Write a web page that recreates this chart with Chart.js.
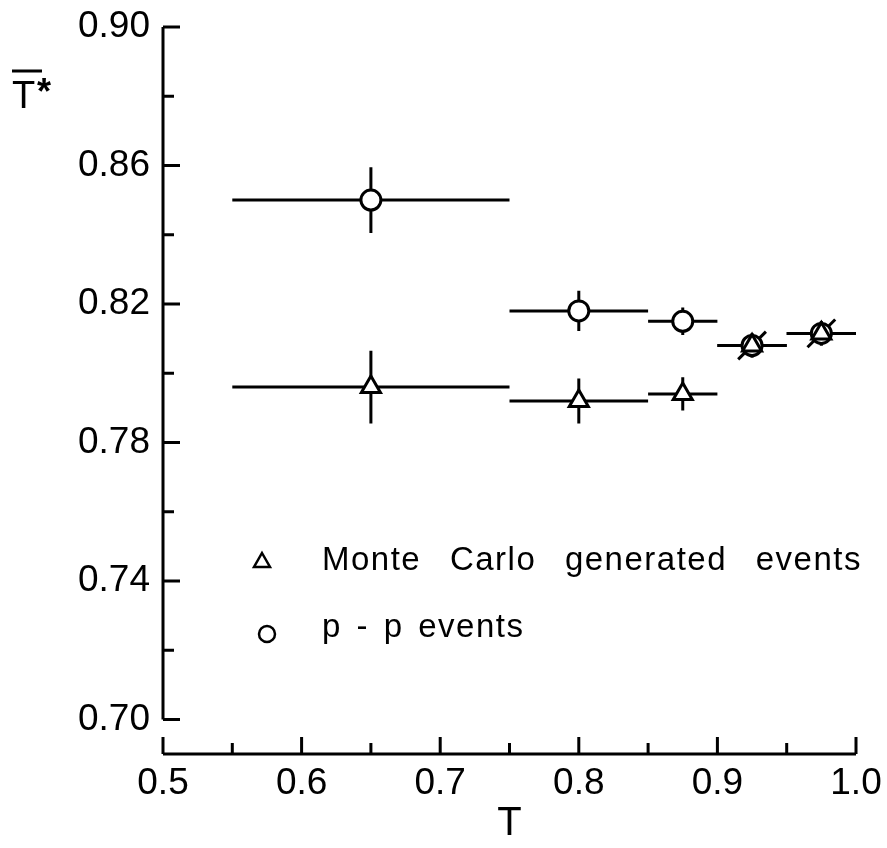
<!DOCTYPE html>
<html>
<head>
<meta charset="utf-8">
<script src="https://cdn.jsdelivr.net/npm/chart.js@4"></script>
<style>
  html, body { margin: 0; padding: 0; background: #fff; }
  #wrap { width: 887px; height: 848px; }
</style>
</head>
<body>
<div id="wrap"><canvas id="canvas" width="887" height="848"></canvas></div>
<script>
// bins in T (horizontal bars) and bin centres
const binLow = [0.55, 0.75, 0.85, 0.90, 0.95];
const binHigh = [0.75, 0.85, 0.90, 0.95, 1.00];
const binCentre = [0.65, 0.80, 0.875, 0.925, 0.975];

// mean T* values
const monteCarlo = [0.796, 0.792, 0.794, 0.808, 0.8115];
const monteCarloErr = [0.0105, 0.0065, 0.0048, 0.0035, 0.0035];
const ppEvents = [0.850, 0.818, 0.815, 0.808, 0.8115];
const ppErr = [0.0095, 0.0058, 0.0040, 0.0035, 0.0035];

// tick labels
const xTicks = [0.5, 0.6, 0.7, 0.8, 0.9, 1.0];
const xMinor = [0.55, 0.65, 0.75, 0.85, 0.95];
const yTicks = [0.70, 0.74, 0.78, 0.82, 0.86, 0.90];
const yMinor = [0.72, 0.76, 0.80, 0.84, 0.88];

const FONT = "'Liberation Sans', Arial, sans-serif";

// error bars, axis lines, inward ticks, legend, y title
const figurePlugin = {
    id: 'figure',
    beforeDatasetsDraw(chart) {
        const ctx = chart.ctx;
        const xs = chart.scales.x, ys = chart.scales.y;
        ctx.save();
        ctx.strokeStyle = '#000';
        ctx.lineWidth = 3;
        ctx.lineCap = 'butt';

        const bars = (vals, errs) => {
            vals.forEach((v, i) => {
                const y = ys.getPixelForValue(v);
                const x = xs.getPixelForValue(binCentre[i]);
                ctx.beginPath();
                ctx.moveTo(xs.getPixelForValue(binLow[i]), y);
                ctx.lineTo(xs.getPixelForValue(binHigh[i]), y);
                ctx.moveTo(x, ys.getPixelForValue(v - errs[i]));
                ctx.lineTo(x, ys.getPixelForValue(v + errs[i]));
                ctx.stroke();
            });
        };
        bars(monteCarlo, monteCarloErr);
        bars(ppEvents, ppErr);

        // slanted strokes where the two samples coincide
        [3, 4].forEach(i => {
            ctx.beginPath();
            ctx.moveTo(xs.getPixelForValue(binCentre[i] - 0.010), ys.getPixelForValue(ppEvents[i] - 0.004));
            ctx.lineTo(xs.getPixelForValue(binCentre[i] + 0.010), ys.getPixelForValue(ppEvents[i] + 0.004));
            ctx.stroke();
        });
        ctx.restore();
    },
    afterDraw(chart) {
        const ctx = chart.ctx;
        const xs = chart.scales.x, ys = chart.scales.y;
        const left = chart.chartArea.left, bottom = chart.chartArea.bottom;
        ctx.save();
        ctx.strokeStyle = '#000';
        ctx.fillStyle = '#000';
        ctx.lineWidth = 3;

        // y axis (stops at 0.70)
        ctx.beginPath();
        ctx.moveTo(left, ys.getPixelForValue(0.70));
        ctx.lineTo(left, ys.getPixelForValue(0.90));
        yTicks.forEach(v => {
            const y = ys.getPixelForValue(v);
            ctx.moveTo(left, y); ctx.lineTo(left + 17, y);
        });
        yMinor.forEach(v => {
            const y = ys.getPixelForValue(v);
            ctx.moveTo(left, y); ctx.lineTo(left + 11, y);
        });
        // x axis
        ctx.moveTo(xs.getPixelForValue(0.5), bottom);
        ctx.lineTo(xs.getPixelForValue(1.0), bottom);
        xTicks.forEach(v => {
            const x = xs.getPixelForValue(v);
            ctx.moveTo(x, bottom); ctx.lineTo(x, bottom - 17);
        });
        xMinor.forEach(v => {
            const x = xs.getPixelForValue(v);
            ctx.moveTo(x, bottom); ctx.lineTo(x, bottom - 11);
        });
        ctx.stroke();

        // y title: T with a bar and a star
        ctx.font = '38px ' + FONT;
        ctx.textBaseline = 'alphabetic';
        ctx.textAlign = 'left';
        ctx.fillText('T', 12, 108);
        ctx.font = 'bold 36px ' + FONT;
        ctx.fillText('*', 37, 104);
        ctx.beginPath();
        ctx.moveTo(12, 71); ctx.lineTo(42, 71);
        ctx.stroke();

        // legend
        ctx.lineWidth = 2.5;
        ctx.beginPath();
        ctx.moveTo(262, 553); ctx.lineTo(270, 567); ctx.lineTo(254, 567); ctx.closePath();
        ctx.stroke();
        ctx.beginPath();
        ctx.arc(267, 634, 8, 0, Math.PI * 2);
        ctx.stroke();

        ctx.font = '33px ' + FONT;
        ctx.letterSpacing = '1.5px';
        ctx.wordSpacing = '18px';
        ctx.fillText('Monte Carlo generated events', 322, 570);
        ctx.wordSpacing = '4px';
        ctx.fillText('p - p events', 322, 637);
        ctx.restore();
    }
};

new Chart(document.querySelector('#canvas'), {
    type: 'scatter',
    data: {
        datasets: [
            {
                label: 'Monte Carlo generated events',
                data: binCentre.map((x, i) => ({ x: x, y: monteCarlo[i] })),
                pointStyle: 'triangle',
                pointRadius: 11,
                pointBorderWidth: 3,
                borderColor: '#000',
                backgroundColor: '#fff'
            },
            {
                label: 'p-p events',
                data: binCentre.map((x, i) => ({ x: x, y: ppEvents[i] })),
                pointStyle: 'circle',
                pointRadius: 10,
                pointBorderWidth: 3,
                borderColor: '#000',
                backgroundColor: '#fff'
            }
        ]
    },
    options: {
        responsive: false,
        animation: false,
        events: [],
        layout: { padding: { left: 0, top: 27, right: 31, bottom: 0 } },
        plugins: { legend: { display: false }, tooltip: { enabled: false } },
        scales: {
            x: {
                type: 'linear',
                min: 0.5,
                max: 1.0,
                afterBuildTicks: s => { s.ticks = xTicks.map(v => ({ value: v })); },
                afterFit: s => { s.height = 94; s.paddingLeft = 0; s.paddingRight = 0; },
                grid: { display: false, drawTicks: false },
                border: { display: false },
                ticks: {
                    color: '#000',
                    padding: 8,
                    font: { family: FONT, size: 37 },
                    callback: v => v.toFixed(1)
                },
                title: {
                    display: true,
                    text: 'T',
                    color: '#000',
                    font: { family: FONT, size: 40 },
                    padding: { top: 0, bottom: 0 }
                }
            },
            y: {
                type: 'linear',
                min: 0.69,
                max: 0.90,
                afterBuildTicks: s => { s.ticks = yTicks.map(v => ({ value: v })); },
                afterFit: s => { s.width = 163; s.paddingTop = 0; s.paddingBottom = 0; },
                grid: { display: false, drawTicks: false },
                border: { display: false },
                ticks: {
                    color: '#000',
                    padding: 13,
                    font: { family: FONT, size: 37 },
                    callback: v => v.toFixed(2)
                }
            }
        }
    },
    plugins: [figurePlugin]
});
</script>
</body>
</html>
